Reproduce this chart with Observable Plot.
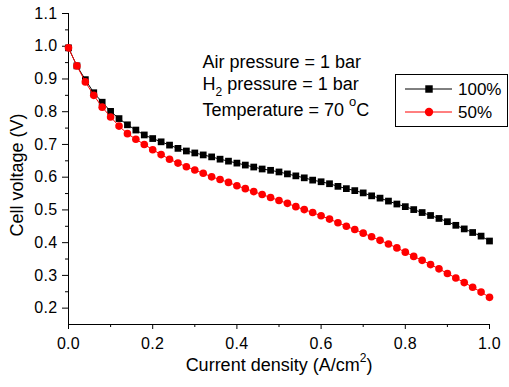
<!DOCTYPE html>
<html>
<head>
<meta charset="utf-8">
<script src="https://cdn.jsdelivr.net/npm/d3@7"></script>
<script src="https://cdn.jsdelivr.net/npm/@observablehq/plot@0.6"></script>
<style>
  html, body { margin: 0; padding: 0; background: #fff; }
  #chart { width: 509px; height: 387px; }
</style>
</head>
<body>
<div id="chart"></div>
<script>
const currentDensity = [0.00,0.02,0.04,0.06,0.08,0.10,0.12,0.14,0.16,0.18,0.20,0.22,0.24,0.26,0.28,0.30,0.32,0.34,0.36,0.38,0.40,0.42,0.44,0.46,0.48,0.50,0.52,0.54,0.56,0.58,0.60,0.62,0.64,0.66,0.68,0.70,0.72,0.74,0.76,0.78,0.80,0.82,0.84,0.86,0.88,0.90,0.92,0.94,0.96,0.98,1.00];
const voltage100 = [0.995,0.940,0.898,0.858,0.829,0.801,0.779,0.760,0.744,0.729,0.718,0.708,0.698,0.688,0.680,0.674,0.668,0.662,0.655,0.649,0.643,0.637,0.631,0.625,0.621,0.616,0.610,0.604,0.598,0.591,0.586,0.580,0.572,0.565,0.559,0.552,0.543,0.536,0.527,0.518,0.510,0.501,0.492,0.483,0.474,0.464,0.453,0.442,0.431,0.420,0.405];
const voltage50 = [0.995,0.940,0.891,0.850,0.814,0.784,0.756,0.733,0.716,0.700,0.684,0.669,0.655,0.643,0.632,0.622,0.612,0.601,0.593,0.584,0.574,0.565,0.556,0.547,0.538,0.529,0.520,0.510,0.501,0.492,0.482,0.472,0.461,0.450,0.440,0.429,0.418,0.407,0.396,0.384,0.371,0.358,0.346,0.333,0.320,0.306,0.292,0.278,0.264,0.249,0.233];
const seriesNames = ["100%", "50%"];
const xMajorTicks = [0, 0.2, 0.4, 0.6, 0.8, 1.0];
const xMinorTicks = [0.1, 0.3, 0.5, 0.7, 0.9];
const yMajorTicks = [0.2, 0.3, 0.4, 0.5, 0.6, 0.7, 0.8, 0.9, 1.0, 1.1];
const yMinorTicks = [0.25, 0.35, 0.45, 0.55, 0.65, 0.75, 0.85, 0.95, 1.05];
const xTitle = "Current density (A/cm2)";
const yTitle = "Cell voltage (V)";
const notes = ["Air pressure = 1 bar", "H2 pressure = 1 bar", "Temperature = 70 oC"];

const d100 = currentDensity.map((x, i) => ({x, v: voltage100[i]}));
const d50 = currentDensity.map((x, i) => ({x, v: voltage50[i]}));

const font = "'Liberation Sans', Arial, sans-serif";
const fmt = d3.format(".1f");

const chart = Plot.plot({
  width: 509,
  height: 387,
  marginLeft: 68,
  marginRight: 20,
  marginTop: 13,
  marginBottom: 63,
  style: {fontFamily: font, fontSize: "16px", color: "black", background: "white"},
  x: {domain: [0, 1]},
  y: {domain: [0.15, 1.1]},
  marks: [
    Plot.axisX({ticks: xMajorTicks, tickSize: 5, tickPadding: 8, tickFormat: fmt, label: null, fontSize: 16, className: "tk"}),
    Plot.axisX({ticks: xMinorTicks, tickSize: 3, tickFormat: () => "", label: null}),
    Plot.axisY({ticks: yMajorTicks, tickSize: 6, tickPadding: 5, tickFormat: fmt, label: null, fontSize: 16, className: "tk"}),
    Plot.axisY({ticks: yMinorTicks, tickSize: 3, tickFormat: () => "", label: null}),
    Plot.ruleX([0], {stroke: "black"}),
    Plot.ruleY([0.15], {stroke: "black"}),
    Plot.line(d100, {x: "x", y: "v", stroke: "black", strokeWidth: 1}),
    Plot.dot(d100, {x: "x", y: "v", symbol: "square", r: 3.8, fill: "black", stroke: "none"}),
    Plot.line(d50, {x: "x", y: "v", stroke: "#ff0000", strokeWidth: 1}),
    Plot.dot(d50, {x: "x", y: "v", symbol: "circle", r: 3.8, fill: "#ff0000", stroke: "none"}),
    Plot.text([xTitle], {frameAnchor: "bottom", dy: 41, fontSize: 18, textAnchor: "middle", lineAnchor: "middle", className: "xtitle"}),
    Plot.text([yTitle], {frameAnchor: "left", rotate: -90, dx: -51, dy: 6, fontSize: 18, textAnchor: "middle", lineAnchor: "middle"}),
    Plot.text([notes[0]], {frameAnchor: "top-left", dx: 134, dy: 48.7, textAnchor: "start", lineAnchor: "middle", fontSize: 18}),
    Plot.text([notes[1]], {frameAnchor: "top-left", dx: 134, dy: 71, textAnchor: "start", lineAnchor: "middle", fontSize: 18, className: "note-h2"}),
    Plot.text([notes[2]], {frameAnchor: "top-left", dx: 134, dy: 97, textAnchor: "start", lineAnchor: "middle", fontSize: 18, className: "note-temp"})
  ]
});

document.getElementById("chart").appendChild(chart);
const svg = d3.select(chart);
svg.selectAll(".tk text").attr("letter-spacing", "0.3px");

// Sub/superscripts
function rich(sel, parts) {
  sel.each(function() {
    const t = d3.select(this);
    t.text(null);
    parts.forEach(p => {
      t.append("tspan").attr("font-size", p.size || null).attr("dy", p.dy || null).text(p.text);
    });
  });
}
rich(svg.selectAll(".note-h2 text"), [
  {text: "H"}, {text: "2", size: 12, dy: 6}, {text: " pressure = 1 bar", dy: -6}
]);
rich(svg.selectAll(".note-temp text"), [
  {text: "Temperature = 70 "}, {text: "o", size: 13, dy: -10}, {text: "C", dy: 10}
]);
rich(svg.selectAll(".xtitle text"), [
  {text: "Current density (A/cm"}, {text: "2", size: 12, dy: -9}, {text: ")", dy: 9}
]);

// Legend
const lg = svg.append("g").attr("font-family", font).attr("font-size", 17).attr("text-anchor", "start");
lg.append("rect").attr("x", 395.5).attr("y", 74.5).attr("width", 112).attr("height", 52)
  .attr("fill", "white").attr("stroke", "black").attr("stroke-width", 1);
const rows = [
  {name: seriesNames[0], color: "black", sym: d3.symbolSquare, y: 89},
  {name: seriesNames[1], color: "#ff0000", sym: d3.symbolCircle, y: 112}
];
rows.forEach(r => {
  lg.append("line").attr("x1", 405).attr("x2", 452).attr("y1", r.y).attr("y2", r.y)
    .attr("stroke", r.color).attr("stroke-width", 1);
  lg.append("path").attr("transform", `translate(429,${r.y})`)
    .attr("d", d3.symbol(r.sym, Math.PI * 4.2 * 4.2)()).attr("fill", r.color);
  lg.append("text").attr("x", 458).attr("y", r.y).attr("dy", "0.35em").attr("text-anchor", "start").text(r.name);
});
</script>
</body>
</html>
